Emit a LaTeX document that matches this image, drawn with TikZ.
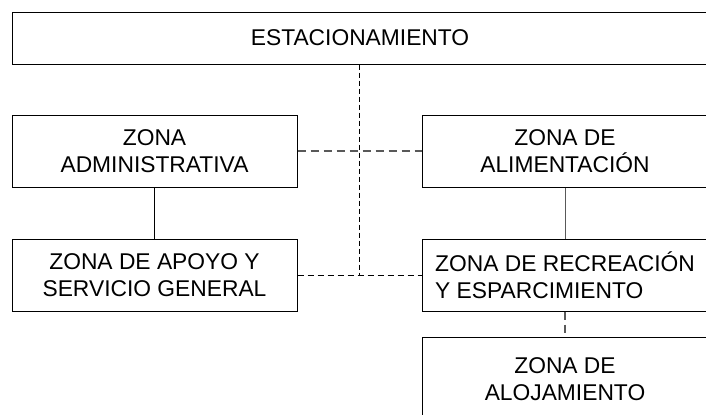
\documentclass[tikz,border=0pt]{standalone}
\usepackage{fontspec}
\setmainfont{Liberation Sans}
\usetikzlibrary{positioning}

\tikzset{
  zonebox/.style={draw, line width=0.75pt, align=center, inner sep=0pt,
    minimum width=213.75pt, minimum height=54pt,
    font=\fontsize{17.1}{19.9}\selectfont},
  graydash/.style={gray!70!black, line width=0.9pt, dash pattern=on 6pt off 3.75pt},
  blackdash/.style={black, line width=0.75pt, dash pattern=on 3.75pt off 2.25pt},
  link/.style={line width=0.75pt}
}

\begin{document}
\begin{tikzpicture}[x=0.75pt, y=-0.75pt]
\useasboundingbox (0,0) rectangle (706,414);
% boxes
\node[zonebox, minimum width=522pt, minimum height=39pt] (est) at (360,38) {ESTACIONAMIENTO};
\node[zonebox] (admin) at (154.5,151) {ZONA\\ADMINISTRATIVA};
\node[zonebox] (apoyo) at (154.5,275) {ZONA DE APOYO Y\\SERVICIO GENERAL};
\node[zonebox, minimum width=214.5pt] (alim) at (565,151) {ZONA DE\\ALIMENTACIÓN};
\node[zonebox, minimum width=214.5pt, align=left] (recre) at (565,275) {ZONA DE RECREACIÓN\\Y ESPARCIMIENTO};
\node[zonebox, minimum width=214.5pt, minimum height=63pt] (aloja) at (565,379) {ZONA DE\\ALOJAMIENTO};
% connectors
\coordinate (junc) at (359,275);
\draw[blackdash] (est.south -| junc) -- (junc);
\draw[graydash] (admin.east) -- (alim.west);
\draw[blackdash, dash pattern=on 4.5pt off 3pt] (apoyo.east) -- (recre.west);
\draw[link] (admin.south) -- (apoyo.north);
\draw[link, gray!70!black] (alim.south) -- (recre.north);
\draw[graydash] (recre.south) -- (aloja.north);
\end{tikzpicture}
\end{document}
